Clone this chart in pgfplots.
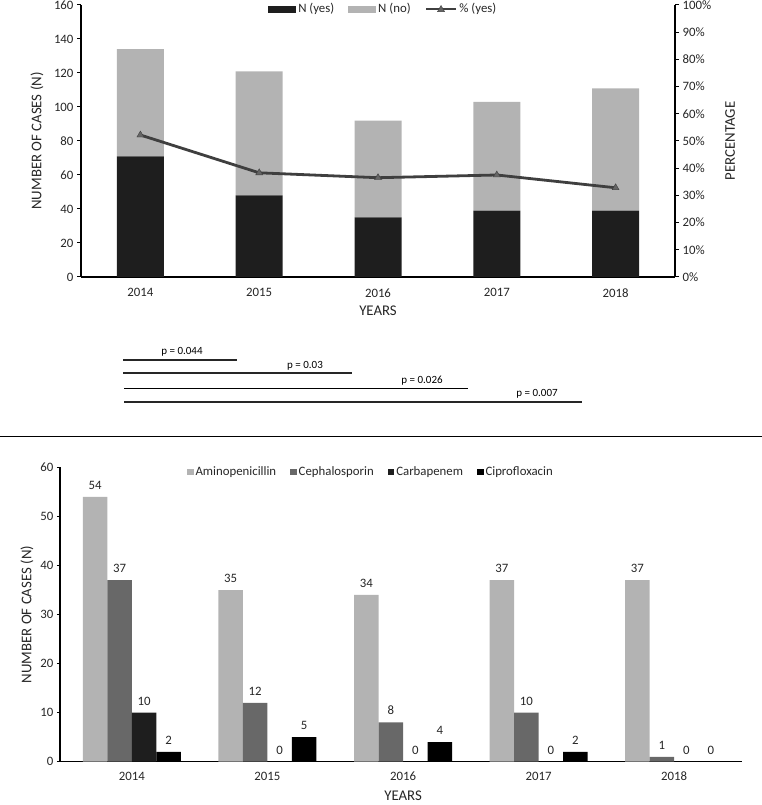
\documentclass[border=0pt]{standalone}
\usepackage{pgfplots}
\pgfplotsset{compat=1.18}
\usepackage{fontspec}
\setmainfont{Carlito}
\definecolor{cyes}{HTML}{1E1E1E}
\definecolor{cno}{HTML}{B3B3B3}
\definecolor{cline}{HTML}{3F3F3F}
\definecolor{cceph}{HTML}{686868}
\definecolor{ctxt}{HTML}{262626}
\newcommand{\lblfont}{\fontsize{14.8}{16}\selectfont}
\pgfplotsset{
 common/.style={
  scale only axis,
  /pgf/number format/assume math mode=true,
  tick label style={font=\fontsize{12.8}{14}\selectfont, text=ctxt},
  axis line style={line width=1.6pt, -},
  x axis line style={-},
  y axis line style={-},
  tick style={line width=1pt, black},
  tick align=outside,
  major tick length=4pt,
  legend style={font=\fontsize{12.8}{14}\selectfont, text=ctxt, draw=none, fill=none, inner sep=0pt, legend columns=-1},
 },
 wideyes/.style={legend image code/.code={\fill[cyes] (0pt,-3.5pt) rectangle (28pt,3.5pt);}},
 wideno/.style={legend image code/.code={\fill[cno] (0pt,-3.5pt) rectangle (28pt,3.5pt);}},
 linelg/.style={legend image code/.code={%
   \draw[cline, line width=2.8pt] (0pt,0pt) -- (30pt,0pt);
   \draw[cline, fill=cline!80, line width=0.4pt] (11.5pt,-2.5pt) -- (18.5pt,-2.5pt) -- (15pt,3.6pt) -- cycle;}},
 sqA/.style={legend image code/.code={\fill[cno] (0pt,-3pt) rectangle (6.5pt,3.5pt);}},
 sqB/.style={legend image code/.code={\fill[cceph] (0pt,-3pt) rectangle (6.5pt,3.5pt);}},
 sqC/.style={legend image code/.code={\fill[cyes] (0pt,-3pt) rectangle (6.5pt,3.5pt);}},
 sqD/.style={legend image code/.code={\fill[black] (0pt,-3pt) rectangle (6.5pt,3.5pt);}},
}

\begin{document}
\begin{tikzpicture}[x=1pt,y=1pt]
% ---------- top chart ----------
\begin{axis}[common, at={(81pt,528pt)}, anchor=south west, width=594pt, height=272pt,
  xmin=-0.5, xmax=4.5, ymin=0, ymax=160,
  ybar stacked, bar width=47pt,
  axis x line*=bottom, axis y line*=left,
  xtick={0,1,2,3,4}, xticklabels={2014,2015,2016,2017,2018},
  x tick style={draw=none},
  xticklabel style={yshift=-4pt},
  ytick={0,20,...,160},
  xlabel={YEARS}, ylabel={NUMBER OF CASES (N)},
  xlabel style={at={(axis description cs:0.5,-0.125)}, anchor=center, font=\lblfont, text=ctxt},
  ylabel style={at={(axis description cs:-0.074,0.5)}, anchor=center, font=\lblfont, text=ctxt},
  legend style={at={(0.315,0.985)}, anchor=west,
    /tikz/every even column/.append style={column sep=12pt}},
]
\addplot[fill=cyes, draw=none, wideyes] coordinates {(0,71) (1,48) (2,35) (3,39) (4,39)};
\addlegendentry{N (yes)}
\addplot[fill=cno, draw=none, wideno] coordinates {(0,63) (1,73) (2,57) (3,64) (4,72)};
\addlegendentry{N (no)}
\addlegendimage{linelg}
\addlegendentry{\% (yes)}
\end{axis}
\begin{axis}[common, at={(81pt,528pt)}, anchor=south west, width=594pt, height=272pt,
  xmin=-0.5, xmax=4.5, ymin=0, ymax=100,
  axis y line*=right, axis x line=none,
  ytick={0,10,...,100},
  yticklabel={\pgfmathprintnumber{\tick}\%},
  ylabel={PERCENTAGE},
  ylabel style={at={(axis description cs:1.0926,0.5)}, anchor=center, font=\lblfont, text=ctxt},
]
\addplot[cline, line width=2.8pt, mark=triangle*, mark size=4pt, mark options={fill=cline!80, line width=0.4pt}] coordinates {(0,52.2) (1,38.3) (2,36.5) (3,37.5) (4,32.8)};
\end{axis}
% ---------- p-value annotations ----------
\begin{scope}[font=\fontsize{11}{13}\selectfont]
\draw[line width=1.4pt, black!85] (123,445) -- (237,445);
\node at (182,453) {p = 0.044};
\draw[line width=1.4pt, black!85] (123,432) -- (352,432);
\node at (305,439.5) {p = 0.03};
\draw[line width=0.9pt, black] (124,417) -- (468,417);
\node at (422,424) {p = 0.026};
\draw[line width=1.4pt, black!85] (124,403) -- (582,403);
\node at (537,411) {p = 0.007};
\end{scope}
% separator
\draw[line width=1.5pt] (0,368.5) -- (762,368.5);
% ---------- bottom chart ----------
\begin{axis}[common, at={(60pt,43.3pt)}, anchor=south west, width=682pt, height=294.3pt,
  xmin=-0.53, xmax=4.5, ymin=0, ymax=60,
  ybar=0pt, bar width=24.5pt,
  major tick length=3pt,
  axis x line*=bottom, axis y line*=left,
  xtick={0,1,2,3,4}, xticklabels={2014,2015,2016,2017,2018},
  x tick style={draw=none},
  xticklabel style={yshift=-4pt},
  ytick={0,10,...,60},
  xlabel={YEARS}, ylabel={NUMBER OF CASES (N)},
  xlabel style={at={(axis description cs:0.503,-0.117)}, anchor=center, font=\lblfont, text=ctxt},
  ylabel style={at={(axis description cs:-0.0484,0.5)}, anchor=center, font=\lblfont, text=ctxt},
  nodes near coords,
  nodes near coords style={font=\fontsize{12.8}{14}\selectfont, text=ctxt, yshift=4pt},
  legend style={at={(0.186,0.984)}, anchor=west,
    /tikz/every even column/.append style={column sep=12pt}},
]
\addplot[fill=cno, draw=none, sqA] coordinates {(0,54) (1,35) (2,34) (3,37) (4,37)};
\addlegendentry{Aminopenicillin}
\addplot[fill=cceph, draw=none, sqB] coordinates {(0,37) (1,12) (2,8) (3,10) (4,1)};
\addlegendentry{Cephalosporin}
\addplot[fill=cyes, draw=none, sqC] coordinates {(0,10) (1,0) (2,0) (3,0) (4,0)};
\addlegendentry{Carbapenem}
\addplot[fill=black, draw=none, sqD] coordinates {(0,2) (1,5) (2,4) (3,2) (4,0)};
\addlegendentry{Ciprofloxacin}
\end{axis}
\pgfresetboundingbox
\useasboundingbox (0,0) rectangle (762,805);
\end{tikzpicture}
\end{document}
